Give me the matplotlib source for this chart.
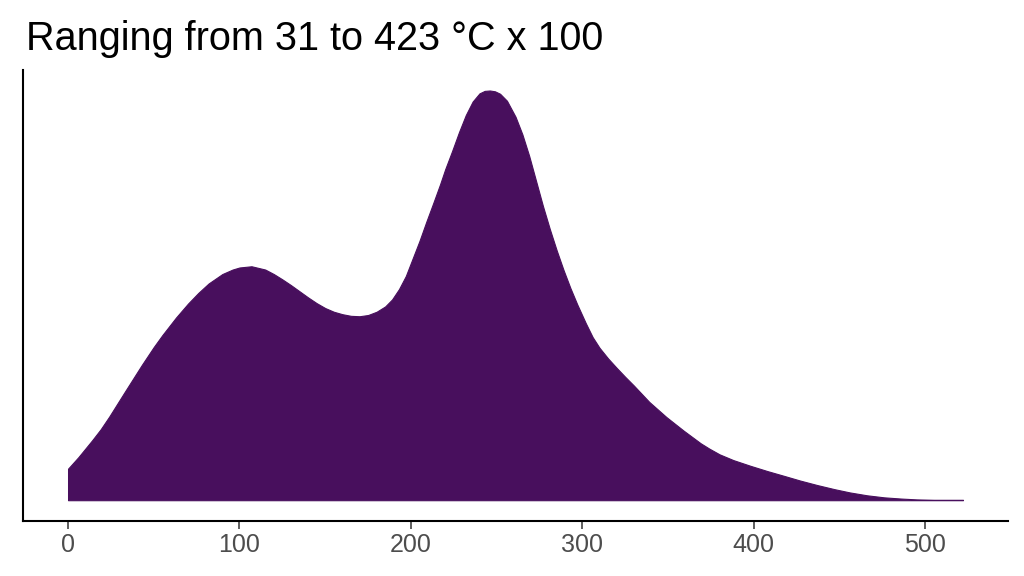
import matplotlib
matplotlib.use("Agg")
import matplotlib.pyplot as plt

# Density curve (scaled so peak = 1)
temp_x = [0, 6, 14, 19, 24, 33, 43, 50, 55, 63, 70, 76, 82, 90, 96, 100, 107,
          115, 120, 125, 130, 135, 140, 145, 150, 155, 160, 165, 170, 175, 180,
          185, 189, 193, 197, 201, 205, 209, 213, 217, 220, 224, 228, 232, 236,
          240, 243, 246, 249, 252, 256, 261, 265, 269, 273, 277, 281, 285, 289,
          293, 297, 302, 306, 310, 315, 320, 325, 330, 339, 349, 359, 369, 374,
          380, 388, 398, 408, 418, 427, 437, 447, 456, 466, 476, 486, 495, 505, 522]
density = [0.077, 0.105, 0.146, 0.173, 0.204, 0.264, 0.330, 0.374, 0.403, 0.446,
           0.480, 0.506, 0.529, 0.552, 0.563, 0.568, 0.571, 0.563, 0.552, 0.539,
           0.525, 0.510, 0.495, 0.481, 0.469, 0.460, 0.454, 0.450, 0.449, 0.452,
           0.460, 0.473, 0.490, 0.515, 0.547, 0.590, 0.633, 0.680, 0.725, 0.771,
           0.808, 0.852, 0.898, 0.940, 0.973, 0.993, 0.999, 1.000, 0.998, 0.992,
           0.975, 0.936, 0.893, 0.840, 0.779, 0.718, 0.662, 0.610, 0.562, 0.518,
           0.478, 0.432, 0.398, 0.372, 0.346, 0.323, 0.301, 0.280, 0.240, 0.203,
           0.170, 0.139, 0.126, 0.112, 0.098, 0.084, 0.071, 0.059, 0.048, 0.037,
           0.027, 0.019, 0.012, 0.007, 0.004, 0.002, 0.001, 0.001]
x_ticks = [0, 100, 200, 300, 400, 500]
title_text = "Ranging from 31 to 423 °C x 100"

fill_color = "#480F5D"

plt.rcParams['font.family'] = ['Liberation Sans', 'DejaVu Sans']

fig = plt.figure(figsize=(10.24, 5.76), dpi=100)
ax = fig.add_axes([23.3 / 1024, 1 - 520.7 / 576, (1007.7 - 23.3) / 1024, (520.7 - 70) / 576])

ax.fill_between(temp_x, 0, density, color=fill_color, linewidth=0.8,
                edgecolor=fill_color, joinstyle='round')

xmin, xmax = 0, 522
pad = (xmax - xmin) * 0.05
ax.set_xlim(xmin - pad, xmax + pad)
ax.set_ylim(-0.05, 1.05)

ax.set_xticks(x_ticks)
ax.set_xticklabels([str(t) for t in x_ticks])
ax.set_yticks([])
ax.tick_params(axis='x', length=5.5, width=1.1, color='#333333', labelsize=18,
               labelcolor='#4D4D4D', pad=3)

for s in ['top', 'right']:
    ax.spines[s].set_visible(False)
for s in ['left', 'bottom']:
    ax.spines[s].set_linewidth(1.5)
    ax.spines[s].set_color('black')

fig.text(26 / 1024, 1 - 49.5 / 576, title_text, fontsize=28.5, color='black',
         ha='left', va='baseline')

fig.savefig("out.png", dpi=100, facecolor='white')
